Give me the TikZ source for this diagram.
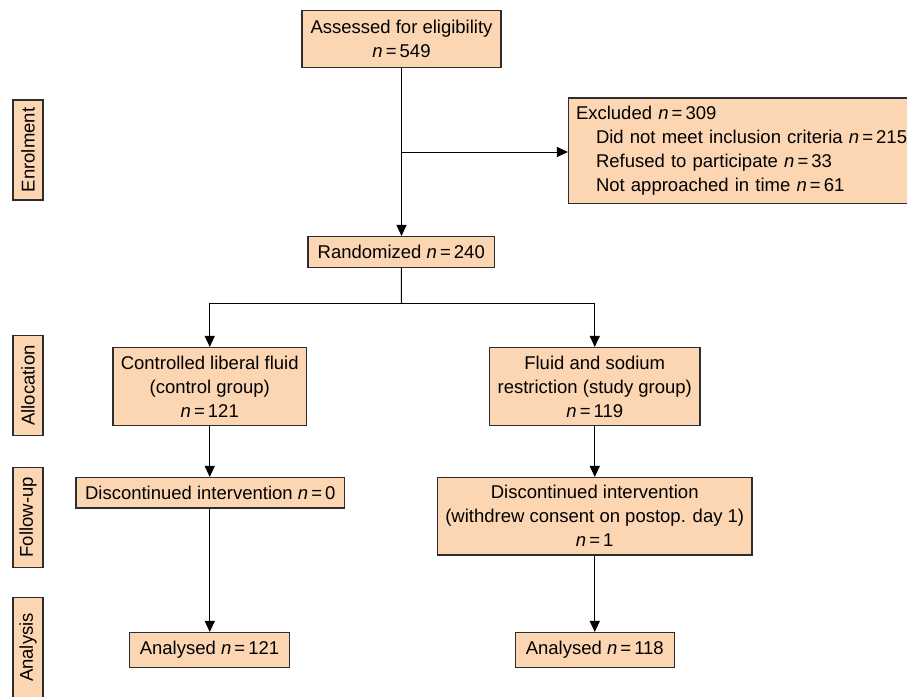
\documentclass[tikz,border=0pt]{standalone}
\usepackage{fontspec}
\setmainfont{Liberation Sans}
\usetikzlibrary{arrows.meta}
\definecolor{boxfill}{RGB}{252,214,178}
\definecolor{boxline}{RGB}{45,45,45}
\newcommand{\nn}[1]{\textit{n}\,=\,#1}
\begin{document}
\begin{tikzpicture}[x=1pt,y=-1pt,
  every node/.style={font=\fontsize{18.5}{24}\selectfont},
  flowbox/.style={draw=boxline,line width=1.1pt,fill=boxfill,inner sep=0pt,align=center},
  sidebox/.style={flowbox,rotate=90,minimum width=100pt,minimum height=30pt},
  conn/.style={line width=1pt,black},
  arr/.style={conn,-{Triangle[length=11pt,width=10pt]}}]
\useasboundingbox (0,0) rectangle (907,696);
% side labels
\node[sidebox] (enrol) at (28,150) {Enrolment};
\node[sidebox] (alloc) at (28,385.5) {Allocation};
\node[sidebox] (follow) at (28,517.25) {Follow-up};
\node[sidebox] (analysis) at (28,647.5) {Analysis};
% flow boxes
\node[flowbox,minimum width=199pt,minimum height=57pt] (assess) at (401.5,39) {Assessed for eligibility\\ \nn{549}};
\node[flowbox,minimum height=105.5pt,text width=351.5pt,inner xsep=7.5pt,align=left] (excl) at (751.75,150.75)
  {Excluded \nn{309}\\
   \hspace*{20pt}Did not meet inclusion criteria \nn{215}\\
   \hspace*{20pt}Refused to participate \nn{33}\\
   \hspace*{20pt}Not approached in time \nn{61}};
\node[flowbox,minimum width=186.5pt,minimum height=31pt] (rand) at (401.25,252) {Randomized \nn{240}};
\node[flowbox,minimum width=193.5pt,minimum height=78pt] (ctrl) at (209.75,386.5) {Controlled liberal fluid\\ (control group)\\ \nn{121}};
\node[flowbox,minimum width=210.5pt,minimum height=78pt] (study) at (594.75,386.5) {Fluid and sodium\\ restriction (study group)\\ \nn{119}};
\node[flowbox,minimum width=268.5pt,minimum height=30.5pt] (discL) at (210.25,492.75) {Discontinued intervention \nn{0}};
\node[flowbox,minimum width=314.5pt,minimum height=77.5pt] (discR) at (594.75,516.25) {Discontinued intervention\\ (withdrew consent on postop. day 1)\\ \nn{1}};
\node[flowbox,minimum width=159.5pt,minimum height=35pt] (anaL) at (209.5,650) {Analysed \nn{121}};
\node[flowbox,minimum width=159pt,minimum height=35pt] (anaR) at (594.75,650) {Analysed \nn{118}};
% connectors
\coordinate (branch) at (401.5,152);
\coordinate (split) at (401.5,303);
\draw[arr] (assess.south) -- (assess.south |- rand.north);
\draw[arr] (branch) -- (excl.west |- branch);
\draw[conn] (rand.south) -- (split);
\draw[arr] (split) -| (ctrl.north);
\draw[arr] (split) -| (study.north);
\draw[arr] (ctrl.south) -- (ctrl.south |- discL.north);
\draw[arr] (study.south) -- (study.south |- discR.north);
\draw[arr] (ctrl.south |- discL.south) -- (ctrl.south |- anaL.north);
\draw[arr] (discR.south) -- (discR.south |- anaR.north);
\end{tikzpicture}
\end{document}
